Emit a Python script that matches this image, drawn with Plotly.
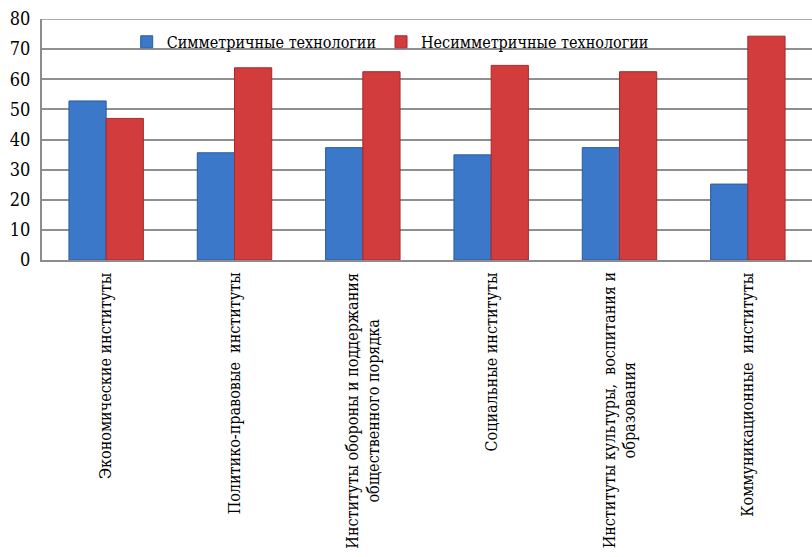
import plotly.graph_objects as go

categories = [
    "Экономические институты",
    "Политико-правовые  институты",
    "Институты обороны и поддержания<br>общественного порядка",
    "Социальные институты",
    "Институты культуры,  воспитания и<br>образования",
    "Коммуникационные  институты",
]
series_names = ["Симметричные технологии", "Несимметричные технологии"]
symmetric = [52.8, 35.6, 37.3, 34.9, 37.3, 25.2]
asymmetric = [47.0, 63.8, 62.5, 64.6, 62.5, 74.3]
y_ticks = [0, 10, 20, 30, 40, 50, 60, 70, 80]

FONT = "DejaVu Serif Condensed, DejaVu Serif"
x_idx = list(range(len(categories)))

fig = go.Figure()
fig.add_trace(go.Bar(x=x_idx, y=symmetric, name=series_names[0],
                     marker=dict(color="#3B78C9", line=dict(color="#2A5C9E", width=1))))
fig.add_trace(go.Bar(x=x_idx, y=asymmetric, name=series_names[1],
                     marker=dict(color="#D23C3C", line=dict(color="#A52A2A", width=1))))

for i, c in enumerate(categories):
    fig.add_annotation(x=i, y=-0.045, xref="x", yref="paper", text=c,
                       textangle=-90, showarrow=False, xanchor="center", yanchor="top",
                       align="center", font=dict(family=FONT, size=16, color="#000"))

fig.update_layout(
    width=812, height=557,
    margin=dict(l=42, r=0, t=19, b=297),
    paper_bgcolor="white", plot_bgcolor="white",
    barmode="group", bargap=0.42, bargroupgap=0,
    font=dict(family=FONT, size=16, color="#000"),
    showlegend=True,
    legend=dict(orientation="h", x=0.11, y=0.905, xanchor="left", yanchor="middle",
                bgcolor="rgba(0,0,0,0)", font=dict(family=FONT, size=16, color="#000"),
                itemwidth=30, tracegroupgap=0),
    xaxis=dict(range=[-0.5, 5.5], showticklabels=False, showgrid=False,
               showline=True, linecolor="#8C8C8C", linewidth=2, zeroline=False,
               tickvals=x_idx),
    yaxis=dict(range=[0, 80], tickvals=y_ticks, showgrid=True, gridcolor="#8F8F8F",
               gridwidth=1.5, showline=True, linecolor="#8C8C8C", linewidth=2,
               zeroline=False, ticks="outside", ticklen=0, ticklabelstandoff=6,
               tickfont=dict(family=FONT, size=18, color="#000")),
)
fig.add_shape(type="line", xref="paper", yref="y", x0=0, x1=1, y0=80, y1=80,
              line=dict(color="#8F8F8F", width=1.5), layer="below")

fig.write_html("out.html")
